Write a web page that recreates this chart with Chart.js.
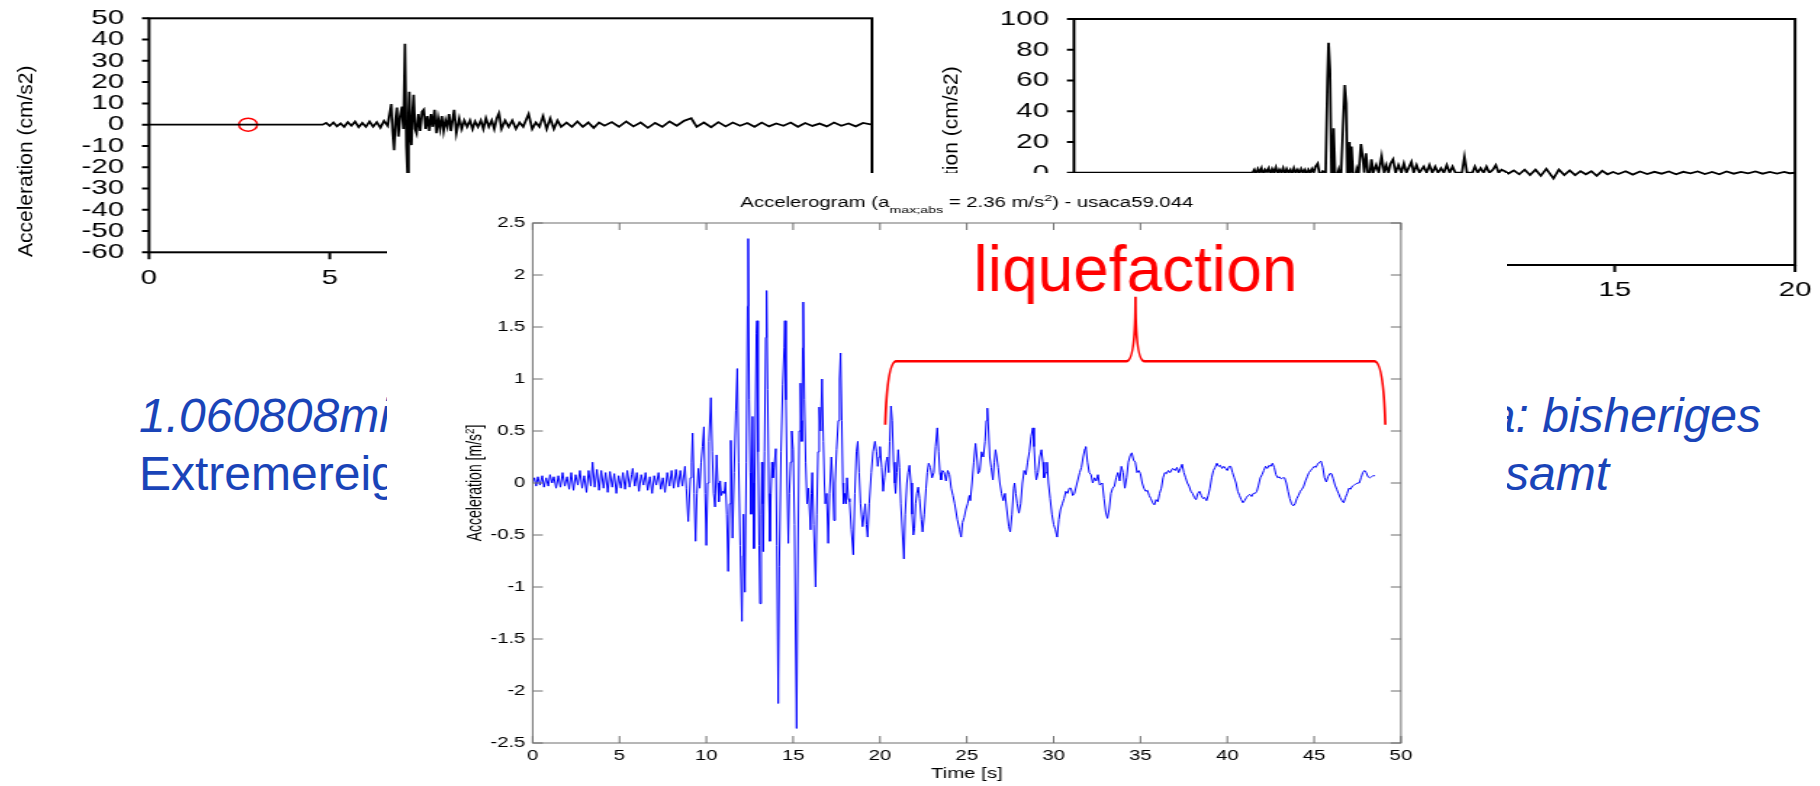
<!DOCTYPE html>
<html>
<head>
<meta charset="utf-8">
<script src="https://cdn.jsdelivr.net/npm/chart.js@4.4.1/dist/chart.umd.min.js"></script>
<style>
  html, body { margin: 0; padding: 0; background: #fff; }
  body { width: 1820px; height: 786px; position: relative; overflow: hidden; font-family: "Liberation Sans", Arial, sans-serif; }
  #topLeft { position: absolute; left: 0; top: 0; transform-origin: 0 0; }
  #topRight { position: absolute; left: 900px; top: 0; transform-origin: 0 0; }
  .blue { position: absolute; color: #1a44b8; font-size: 48px; line-height: 1; white-space: nowrap; }
  .it { font-style: italic; }
  #mainBox { position: absolute; left: 387px; top: 173px; width: 1120px; height: 613px; background: #fff; overflow: hidden; }
  #mainChart { position: absolute; left: 0; top: 0; transform-origin: 0 0; }
</style>
</head>
<body>
<canvas id="topLeft"></canvas>
<canvas id="topRight"></canvas>

<div class="blue it" style="left:139px; top:392px;">1.060808mio</div>
<div class="blue" style="left:139px; top:450px;">Extremereignis</div>
<div class="blue it" style="right:59px; top:392px;">Europa: bisheriges</div>
<div class="blue it" style="left:1505px; top:450px;">samt</div>

<div id="mainBox"><canvas id="mainChart" width="772" height="613"></canvas></div>

<script>
// ---- Daten: oberes linkes Diagramm (cm/s2) ----
const tlTime = [
  0, 4.8, 4.9, 5.0, 5.1, 5.2, 5.3, 5.4, 5.5, 5.6,
  5.7, 5.8, 5.9, 6.0, 6.1, 6.2, 6.3, 6.4, 6.5, 6.6,
  6.7, 6.74, 6.78, 6.82, 6.86, 6.9, 6.95, 7.0, 7.04, 7.08,
  7.12, 7.15, 7.18, 7.2, 7.23, 7.26, 7.29, 7.32, 7.36, 7.4,
  7.45, 7.5, 7.55, 7.6, 7.65, 7.7, 7.75, 7.8, 7.85, 7.9,
  7.95, 8.0, 8.05, 8.1, 8.15, 8.2, 8.25, 8.3, 8.35, 8.44,
  8.5, 8.58, 8.65, 8.72, 8.8, 8.88, 8.95, 9.02, 9.1, 9.18,
  9.25, 9.32, 9.4, 9.48, 9.55, 9.62, 9.68, 9.75, 9.85, 9.95,
  10.05, 10.15, 10.25, 10.35, 10.45, 10.5, 10.6, 10.7, 10.8, 10.9,
  11.0, 11.1, 11.2, 11.3, 11.4, 11.55, 11.7, 11.85, 12.0, 12.15,
  12.3, 12.45, 12.6, 12.8, 13.0, 13.2, 13.4, 13.6, 13.8, 14.0,
  14.2, 14.4, 14.6, 14.8, 15.0, 15.15, 15.35, 15.55, 15.75, 15.95,
  16.15, 16.35, 16.55, 16.75, 16.95, 17.15, 17.35, 17.55, 17.75, 17.95,
  18.15, 18.35, 18.55, 18.75, 18.95, 19.15, 19.35, 19.55, 19.75, 20.0
];
const tlAccel = [
  0, 0, 0.8, -0.6, 1.0, -0.8, 0.6, -1.0, 1.2, -0.5,
  1.4, -1.2, 0.8, -1.0, 1.5, -0.9, 1.2, -1.4, 1.8, -0.5,
  9.7, -3, -12, 2, 8, -5.6, 4, 8.5, -2, 38,
  -10, -23, 5, 15.5, -4, -9.6, 6, 14, -2, -4,
  5, -3, 6, 7, -2, 4, -3, 5, -1, 7,
  -4, 3, -2, 4, -3, 2, -1, 5, -3, 7,
  -4, 3, -2, 2, -1, 2, -2, 1.5, -1, 2,
  -2, 3, -1, 2, -2, 3, 5.3, -2, 2, -1,
  2, -2, 1, -1, 3, 5, -2, 1, -1, 4,
  -2, 3, -2, 2, -1, 1, -1, 1.5, -1, 1,
  -1.5, 1, -0.5, 1.2, -1, 1.5, -0.8, 1, -1.5, 0.8,
  -1, 1.5, -0.5, 1.8, 3, -1, 1, -1.2, 1.2, -0.8,
  1, -0.5, 0.8, -1, 1, -0.8, 0.6, -0.5, 1, -1,
  0.8, -0.6, 0.5, -0.8, 1, -0.5, 0.6, -0.8, 0.8, 0
];
const tlMarkTime = [2.74];
const tlMarkAccel = [0];
const tlXTicks = [0, 5, 10, 15, 20];
const tlYTicks = [-60, -50, -40, -30, -20, -10, 0, 10, 20, 30, 40, 50];

// ---- Daten: oberes rechtes Diagramm (cm/s2) ----
const trTime = [
  0, 4.95, 5.0, 5.05, 5.1, 5.15, 5.2, 5.25, 5.3, 5.35,
  5.4, 5.45, 5.5, 5.55, 5.6, 5.65, 5.7, 5.75, 5.8, 5.85,
  5.9, 5.95, 6.0, 6.05, 6.1, 6.15, 6.2, 6.25, 6.3, 6.35,
  6.4, 6.45, 6.5, 6.55, 6.6, 6.65, 6.7, 6.76, 6.82, 6.9,
  6.98, 7.03, 7.06, 7.1, 7.14, 7.17, 7.2, 7.24, 7.28, 7.34,
  7.4, 7.46, 7.51, 7.55, 7.58, 7.62, 7.64, 7.67, 7.7, 7.74,
  7.8, 7.85, 7.9, 7.96, 8.02, 8.05, 8.1, 8.15, 8.2, 8.25,
  8.3, 8.38, 8.45, 8.53, 8.6, 8.66, 8.72, 8.78, 8.85, 8.92,
  9.0, 9.08, 9.15, 9.22, 9.3, 9.36, 9.42, 9.5, 9.58, 9.7,
  9.78, 9.86, 9.94, 10.02, 10.1, 10.18, 10.26, 10.34, 10.42, 10.5,
  10.58, 10.76, 10.83, 10.9, 11.05, 11.12, 11.2, 11.28, 11.36, 11.44,
  11.52, 11.62, 11.7, 11.78, 11.86, 11.95, 12.05, 12.2, 12.35, 12.5,
  12.65, 12.8, 12.95, 13.1, 13.3, 13.45, 13.6, 13.75, 13.9, 14.05,
  14.2, 14.35, 14.5, 14.65, 14.8, 14.95, 15.1, 15.3, 15.5, 15.7,
  15.9, 16.1, 16.3, 16.5, 16.7, 16.9, 17.1, 17.3, 17.5, 17.7,
  17.9, 18.1, 18.3, 18.5, 18.7, 18.9, 19.1, 19.3, 19.5, 19.7, 19.85, 20
];
const trAccel = [
  0, 0, 2, -1, 2.5, 0, 3, -1, 2, 0.5,
  3, -1, 2.5, 0, 3.5, -0.5, 2, 0, 3, -1,
  2.5, 0, 2, -1, 3, 0, 2, -0.5, 2.5, 0,
  2, -1, 2, 0, 2.5, 0, 4, 6, -2, 1,
  0, 60, 84.6, 67, 0, -5, 29, 0, -3, 2,
  -5, 30, 57, 45, 0, -4, 20, 0, 17, 0,
  -3, 3, 0, 18.7, 8, 0, 12.6, 0, -2, 8.7,
  0, 5, 0, 10.8, 0, 5, 0, 6, 8.7, 0,
  5, 0, 6, 0, 4, 7, 0, 5, 0, 4,
  0, 5, 0, 4, 0, 3, 0, 5, 0, 4,
  0, 0, 10.4, 0, 0, 4, 0, 3, 0, 4,
  0, 2, 5, 0, 2, 1, -0.5, 1.5, -1, 2,
  -1.5, 2, -2, 2.5, -3.7, 2, -1.5, 1.5, -1.5, 1,
  -1, 1, -2, 1.2, -1, 0.5, -0.8, 1, -1.2, 0.8,
  -0.8, 0.6, -0.6, 0.8, -1, 0.6, -0.4, 0.8, -0.8, 0.5,
  -1, 0.8, -0.6, 0.6, -0.4, 0.8, -0.6, 0.6, -0.5, 0.5, -0.3, 0
];
const trXTicks = [0, 5, 10, 15, 20];
const trYTicks = [-60, -40, -20, 0, 20, 40, 60, 80, 100];

// ---- Daten: Akzelerogramm usaca59.044 (m/s2) ----
const mainTime = [
  0, 0.1, 0.2, 0.3, 0.42, 0.55, 0.65, 0.78, 0.9, 1.0,
  1.12, 1.22, 1.35, 1.48, 1.6, 1.72, 1.85, 1.98, 2.1, 2.22,
  2.35, 2.47, 2.6, 2.72, 2.85, 2.97, 3.1, 3.22, 3.35, 3.45,
  3.57, 3.7, 3.82, 3.95, 4.08, 4.2, 4.32, 4.45, 4.58, 4.7,
  4.82, 4.95, 5.08, 5.2, 5.32, 5.45, 5.58, 5.7, 5.76, 5.88,
  6.0, 6.12, 6.25, 6.38, 6.5, 6.62, 6.75, 6.88, 7.0, 7.12,
  7.25, 7.38, 7.5, 7.62, 7.75, 7.88, 8.0, 8.12, 8.25, 8.38,
  8.5, 8.62, 8.77, 8.85, 8.96, 9.08, 9.15, 9.21, 9.3, 9.38,
  9.46, 9.54, 9.62, 9.7, 9.78, 9.86, 9.93, 10.0, 10.08, 10.15,
  10.26, 10.34, 10.42, 10.5, 10.59, 10.66, 10.72, 10.8, 10.87, 10.95,
  11.03, 11.1, 11.18, 11.26, 11.34, 11.41, 11.46, 11.51, 11.6, 11.7,
  11.78, 11.86, 11.95, 12.05, 12.1, 12.14, 12.22, 12.3, 12.37, 12.41,
  12.47, 12.53, 12.58, 12.66, 12.7, 12.74, 12.82, 12.88, 12.92, 12.98,
  13.04, 13.09, 13.16, 13.2, 13.24, 13.28, 13.35, 13.42, 13.47, 13.53,
  13.6, 13.66, 13.72, 13.78, 13.83, 13.9, 14.0, 14.06, 14.14, 14.2,
  14.3, 14.4, 14.48, 14.52, 14.58, 14.65, 14.72, 14.78, 14.85, 14.92,
  15.0, 15.08, 15.14, 15.2, 15.26, 15.35, 15.42, 15.47, 15.5, 15.55,
  15.58, 15.65, 15.72, 15.8, 15.88, 16.0, 16.05, 16.1, 16.18, 16.29,
  16.36, 16.43, 16.5, 16.58, 16.66, 16.74, 16.8, 16.85, 16.93, 17.02,
  17.1, 17.2, 17.28, 17.35, 17.42, 17.5, 17.6, 17.67, 17.73, 17.8,
  17.86, 17.9, 17.98, 18.05, 18.1, 18.18, 18.25, 18.35, 18.46, 18.55,
  18.64, 18.72, 18.8, 18.88, 19.0, 19.08, 19.15, 19.22, 19.29, 19.38,
  19.5, 19.6, 19.71, 19.8, 19.87, 19.94, 20.0, 20.1, 20.18, 20.26,
  20.35, 20.42, 20.5, 20.56, 20.63, 20.7, 20.78, 20.85, 20.9, 20.97,
  21.05, 21.12, 21.2, 21.3, 21.38, 21.45, 21.55, 21.62, 21.7, 21.78,
  21.85, 21.92, 21.98, 22.05, 22.12, 22.2, 22.28, 22.38, 22.45, 22.55,
  22.65, 22.72, 22.8, 22.9, 23.0, 23.1, 23.2, 23.3, 23.38, 23.45,
  23.52, 23.6, 23.7, 23.8, 23.9, 24.0, 24.1, 24.2, 24.3, 24.45,
  24.58, 24.67, 24.75, 24.85, 24.95, 25.05, 25.15, 25.2, 25.3, 25.4,
  25.5, 25.58, 25.65, 25.75, 25.85, 25.95, 26.05, 26.12, 26.18, 26.25,
  26.32, 26.4, 26.5, 26.58, 26.65, 26.72, 26.8, 26.9, 27.0, 27.1,
  27.2, 27.3, 27.42, 27.5, 27.6, 27.7, 27.75, 27.82, 27.9, 28.0,
  28.1, 28.2, 28.3, 28.4, 28.5, 28.6, 28.7, 28.8, 28.87, 28.95,
  29.0, 29.1, 29.2, 29.3, 29.38, 29.45, 29.55, 29.62, 29.7, 29.8,
  29.9, 30.0, 30.1, 30.2, 30.3, 30.4, 30.5, 30.6, 30.7, 30.8,
  30.9, 31.0, 31.1, 31.2, 31.35, 31.5, 31.6, 31.7, 31.8, 31.85,
  31.95, 32.05, 32.15, 32.25, 32.35, 32.45, 32.55, 32.65, 32.8, 32.9,
  33.0, 33.1, 33.2, 33.3, 33.4, 33.5, 33.6, 33.7, 33.8, 33.9,
  34.0, 34.1, 34.2, 34.3, 34.4, 34.5, 34.6, 34.7, 34.8, 34.9,
  35.0, 35.1, 35.2, 35.3, 35.4, 35.5, 35.6, 35.7, 35.8, 35.9,
  36.0, 36.1, 36.2, 36.3, 36.4, 36.5, 36.6, 36.7, 36.85, 37.0,
  37.1, 37.2, 37.3, 37.4, 37.5, 37.6, 37.7, 37.8, 37.9, 38.0,
  38.1, 38.2, 38.3, 38.4, 38.5, 38.6, 38.7, 38.8, 38.9, 39.0,
  39.1, 39.2, 39.3, 39.4, 39.5, 39.6, 39.7, 39.8, 39.9, 40.0,
  40.1, 40.2, 40.3, 40.4, 40.5, 40.6, 40.7, 40.8, 40.9, 41.0,
  41.1, 41.2, 41.3, 41.4, 41.5, 41.6, 41.7, 41.8, 41.9, 42.0,
  42.1, 42.2, 42.3, 42.4, 42.5, 42.6, 42.7, 42.8, 42.9, 43.0,
  43.1, 43.2, 43.3, 43.4, 43.5, 43.6, 43.7, 43.8, 43.9, 44.0,
  44.1, 44.2, 44.3, 44.4, 44.5, 44.6, 44.7, 44.8, 44.9, 45.0,
  45.1, 45.2, 45.3, 45.4, 45.5, 45.6, 45.7, 45.8, 45.9, 46.0,
  46.1, 46.2, 46.3, 46.4, 46.5, 46.6, 46.7, 46.8, 46.9, 47.0,
  47.1, 47.2, 47.3, 47.4, 47.5, 47.6, 47.7, 47.8, 47.9, 48.0,
  48.1, 48.2, 48.3, 48.4, 48.5
];
const mainAccel = [
  0, 0.05, -0.03, 0.06, -0.02, 0.07, -0.04, 0.05, -0.03, 0.08,
  0.0, 0.06, -0.05, 0.07, -0.04, 0.1, -0.03, 0.06, -0.06, 0.1,
  -0.07, 0.08, -0.02, 0.12, -0.05, 0.07, -0.09, 0.12, -0.03, 0.2,
  -0.04, 0.13, -0.07, 0.12, -0.05, 0.1, -0.09, 0.11, -0.04, 0.09,
  -0.1, 0.07, -0.05, 0.1, -0.06, 0.12, -0.04, 0.08, 0.14, -0.03,
  0.1, -0.08, 0.08, -0.02, 0.1, -0.07, 0.06, -0.1, 0.07, -0.02,
  0.1, -0.06, 0.05, -0.09, 0.1, -0.03, 0.12, -0.05, 0.13, -0.04,
  0.12, -0.03, 0.16, -0.05, -0.37, 0.05, 0.2, 0.48, -0.1, -0.56,
  -0.1, 0.14, -0.05, 0.2, 0.35, 0.54, -0.1, -0.6, 0.0, 0.4,
  0.82, 0.3, -0.1, -0.23, 0.27, 0.0, -0.18, 0.02, -0.12, -0.08,
  -0.1, 0.01, -0.3, -0.85, -0.2, 0.41, 0.0, -0.53, 0.1, 0.7,
  1.1, 0.2, -0.6, -1.33, -0.7, -0.3, -1.05, 0.2, 1.7, 2.35,
  0.8, 0.1, -0.3, 0.64, 0.0, -0.63, 0.5, 1.44, 1.56, 0.3,
  -0.6, -1.16, -0.3, 0.2, -0.2, -0.66, 0.3, 1.4, 1.85, 0.9,
  -0.1, -0.56, -0.1, 0.2, 0.05, 0.15, 0.33, -0.6, -2.12, -0.8,
  0.3, 0.95, 1.3, 1.56, 0.8, 0.0, -0.58, -0.1, 0.2, 0.5,
  0.32, -0.4, -1.5, -2.36, -1.0, 0.5, 0.96, 0.6, 0.4, 1.3,
  1.74, 0.8, 0.2, -0.2, -0.05, -0.45, -0.1, 0.1, -0.4, -1.0,
  -0.3, 0.3, 0.73, 0.5, 1.0, 0.4, 0.0, -0.2, -0.1, -0.58,
  -0.1, 0.25, 0.0, -0.36, 0.0, 0.32, 0.6, 1.0, 1.25, 0.6,
  0.0, -0.2, -0.1, -0.2, 0.05, -0.15, -0.18, -0.45, -0.69, -0.1,
  0.3, 0.4, 0.1, -0.2, -0.42, -0.3, -0.2, -0.4, -0.52, -0.2,
  0.1, 0.3, 0.4, 0.3, 0.16, 0.25, 0.35, 0.15, -0.08, 0.05,
  0.2, 0.25, 0.1, 0.4, 0.74, 0.6, 0.2, 0.0, -0.1, 0.1,
  0.32, 0.15, -0.2, -0.5, -0.73, -0.3, 0.0, 0.1, 0.17, 0.0,
  -0.3, -0.5, -0.44, -0.2, -0.1, -0.04, -0.15, -0.35, -0.47, -0.3,
  -0.05, 0.1, 0.19, 0.15, 0.05, 0.1, 0.35, 0.53, 0.3, 0.1,
  0.03, 0.12, 0.1, 0.02, 0.12, 0.08, -0.05, -0.12, -0.2, -0.35,
  -0.45, -0.52, -0.38, -0.33, -0.25, -0.2, -0.12, -0.17, 0.0, 0.2,
  0.38, 0.25, 0.09, 0.12, 0.3, 0.25, 0.4, 0.6, 0.72, 0.5,
  0.25, 0.15, 0.03, 0.2, 0.32, 0.25, 0.15, 0.0, -0.1, -0.17,
  -0.1, -0.25, -0.42, -0.47, -0.3, -0.05, 0.0, -0.1, -0.2, -0.29,
  -0.2, 0.0, 0.12, 0.08, 0.2, 0.3, 0.45, 0.53, 0.35, 0.12,
  0.03, 0.1, 0.25, 0.32, 0.2, 0.05, 0.1, 0.2, 0.0, -0.15,
  -0.3, -0.4, -0.45, -0.52, -0.35, -0.25, -0.2, -0.15, -0.08, -0.1,
  -0.05, -0.05, -0.12, -0.1, 0.0, 0.1, 0.15, 0.25, 0.33, 0.35,
  0.2, 0.1, 0.08, 0.0, 0.05, 0.02, 0.08, -0.02, 0.0, -0.15,
  -0.28, -0.34, -0.25, -0.1, -0.05, -0.03, 0.05, 0.1, 0.02, 0.16,
  0.1, -0.05, 0.05, 0.2, 0.26, 0.29, 0.22, 0.2, 0.1, 0.12,
  0.09, 0.0, -0.05, -0.08, -0.07, -0.12, -0.15, -0.19, -0.21, -0.16,
  -0.18, -0.1, -0.05, 0.05, 0.1, 0.09, 0.12, 0.1, 0.14, 0.12,
  0.15, 0.1, 0.14, 0.18, 0.1, 0.05, 0.0, -0.03, -0.08, -0.1,
  -0.14, -0.16, -0.1, -0.08, -0.12, -0.15, -0.14, -0.17, -0.12, -0.05,
  0.05, 0.12, 0.15, 0.19, 0.16, 0.17, 0.14, 0.16, 0.14, 0.12,
  0.16, 0.16, 0.1, 0.05, 0.0, -0.08, -0.12, -0.16, -0.19, -0.17,
  -0.14, -0.12, -0.11, -0.13, -0.1, -0.1, -0.08, -0.02, 0.05, 0.08,
  0.12, 0.16, 0.14, 0.17, 0.16, 0.19, 0.15, 0.08, 0.05, 0.06,
  0.04, 0.05, 0.05, 0.0, -0.08, -0.15, -0.2, -0.22, -0.2, -0.15,
  -0.12, -0.08, -0.06, -0.03, 0.02, 0.06, 0.1, 0.12, 0.14, 0.16,
  0.15, 0.18, 0.2, 0.21, 0.15, 0.05, 0.01, 0.06, 0.09, 0.09,
  0.04, -0.02, -0.06, -0.1, -0.14, -0.17, -0.19, -0.14, -0.1, -0.05,
  -0.06, -0.03, -0.02, -0.01, 0.0, 0.0, 0.05, 0.1, 0.12, 0.1,
  0.06, 0.05, 0.06, 0.07, 0.07
];
const mainXTicks = [0, 5, 10, 15, 20, 25, 30, 35, 40, 45, 50];
const mainYTicks = [-2.5, -2, -1.5, -1, -0.5, 0, 0.5, 1, 1.5, 2, 2.5];

// Klammer "liquefaction" (Zeit in s, Werte in m/s2)
const braceTime = [20.3, 34.71, 49.1];
const braceLevel = [0.56, 1.17, 1.79];
const labelPos = [34.71, 1.85];

const FONT = '"Liberation Sans", Arial, sans-serif';
const SX = 1120 / 772; // Hauptgrafik ist horizontal gestreckt
const ST = 1.4;        // obere Grafiken ebenfalls

function pairs(xs, ys) {
  return xs.map((x, i) => ({ x: x, y: ys[i] }));
}

function fixedTicks(values) {
  return function(scale) {
    scale.ticks = values.map(v => ({ value: v }));
  };
}

function drawParts(ctx, parts, x, y, size, align) {
  const f = p => ((p.sub || p.sup) ? size * 0.7 : size) + 'px ' + FONT;
  let total = 0;
  const widths = parts.map(p => {
    ctx.font = f(p);
    const w = ctx.measureText(p.t).width;
    total += w;
    return w;
  });
  let cx = align === 'center' ? x - total / 2 : x;
  ctx.textAlign = 'left';
  ctx.textBaseline = 'alphabetic';
  parts.forEach((p, i) => {
    ctx.font = f(p);
    const dy = p.sub ? size * 0.42 : (p.sup ? -size * 0.42 : 0);
    ctx.fillText(p.t, cx, y + dy);
    cx += widths[i];
  });
}

// Rahmen und Striche
function framePlugin(opts) {
  return {
    id: 'frame',
    afterDatasetsDraw(chart) {
      const ctx = chart.ctx, a = chart.chartArea;
      const xs = chart.scales.x, ys = chart.scales.y;
      ctx.save();
      ctx.strokeStyle = opts.color;
      ctx.lineWidth = opts.width;
      ctx.strokeRect(a.left, a.top, a.right - a.left, a.bottom - a.top);
      ctx.beginPath();
      const LX = opts.tickX, LY = opts.tickY;
      xs.ticks.forEach(t => {
        const px = xs.getPixelForValue(t.value);
        if (opts.inward) {
          ctx.moveTo(px, a.bottom); ctx.lineTo(px, a.bottom - LX);
          ctx.moveTo(px, a.top); ctx.lineTo(px, a.top + LX);
        } else {
          ctx.moveTo(px, a.bottom); ctx.lineTo(px, a.bottom + LX);
        }
      });
      ys.ticks.forEach(t => {
        const py = ys.getPixelForValue(t.value);
        if (opts.inward) {
          ctx.moveTo(a.left, py); ctx.lineTo(a.left + LY, py);
          ctx.moveTo(a.right, py); ctx.lineTo(a.right - LY, py);
        } else {
          ctx.moveTo(a.left, py); ctx.lineTo(a.left - LY, py);
        }
      });
      ctx.stroke();
      ctx.restore();
    }
  };
}

// y-Achsentitel der oberen Diagramme (nicht gestreckt)
function topTitle(s) {
  return {
    id: 'topTitle',
    afterDraw(chart) {
      const ctx = chart.ctx, a = chart.chartArea;
      ctx.save();
      ctx.translate(a.left - 122 / s, a.top + 143);
      ctx.scale(1 / s, 1);
      ctx.rotate(-Math.PI / 2);
      ctx.fillStyle = '#000';
      ctx.font = '21px ' + FONT;
      ctx.textAlign = 'center';
      ctx.textBaseline = 'middle';
      ctx.fillText('Acceleration (cm/s2)', 0, 0);
      ctx.restore();
    }
  };
}

// area: Plotfläche in Seitenpixeln relativ zur Canvas
function topChart(id, W, H, area, time, accel, xTicks, yTicks, xGap, extra) {
  const canvas = document.getElementById(id);
  const w = Math.round(W / ST);
  const s = W / w;
  canvas.width = w;
  canvas.height = H;
  canvas.style.transform = 'scaleX(' + s + ')';
  const xHeight = 40;
  const datasets = [{
    data: pairs(time, accel),
    borderColor: '#000',
    borderWidth: 1.8,
    pointRadius: 0,
    tension: 0
  }];
  if (extra) datasets.push(extra);
  return new Chart(canvas, {
    type: 'line',
    data: { datasets: datasets },
    options: {
      responsive: false,
      animation: false,
      events: [],
      layout: { padding: {
        left: area.left / s - 60,
        right: w - area.right / s,
        top: area.top,
        bottom: H - area.bottom - xHeight
      } },
      plugins: { legend: { display: false }, tooltip: { enabled: false } },
      scales: {
        x: {
          type: 'linear',
          min: xTicks[0], max: xTicks[xTicks.length - 1],
          afterBuildTicks: fixedTicks(xTicks),
          afterFit: sc => { sc.height = xHeight; },
          grid: { display: false, drawTicks: true, tickLength: xGap },
          border: { display: false },
          ticks: { autoSkip: false, maxRotation: 0, padding: 0, color: '#000',
                   font: { family: FONT, size: 21 }, callback: v => String(v) }
        },
        y: {
          type: 'linear',
          min: yTicks[0], max: yTicks[yTicks.length - 1],
          afterBuildTicks: fixedTicks(yTicks),
          afterFit: sc => { sc.width = 60; },
          grid: { display: false, drawTicks: true, tickLength: 25 / s },
          border: { display: false },
          ticks: { autoSkip: false, padding: 0, color: '#000',
                   font: { family: FONT, size: 21 }, callback: v => String(v) }
        }
      }
    },
    plugins: [framePlugin({ color: '#000', width: 2, tickX: 7, tickY: 7 / s, inward: false }), topTitle(s)]
  });
}

topChart('topLeft', 900, 300, { left: 149, right: 872, top: 18.3, bottom: 252.3 },
  tlTime, tlAccel, tlXTicks, tlYTicks, 13,
  {
    data: pairs(tlMarkTime, tlMarkAccel),
    showLine: false,
    pointRadius: 6.5,
    pointBorderWidth: 1.5,
    pointBorderColor: '#ff0000',
    pointBackgroundColor: 'rgba(0,0,0,0)'
  });

topChart('topRight', 920, 300, { left: 174, right: 895, top: 19, bottom: 265 },
  trTime, trAccel, trXTicks, trYTicks, 12.6);

// Titel, Achsentitel, Klammer
const mainDecor = {
  id: 'mainDecor',
  afterDatasetsDraw(chart) {
    const ctx = chart.ctx, a = chart.chartArea;
    const xs = chart.scales.x, ys = chart.scales.y;
    const cx = (a.left + a.right) / 2;
    ctx.save();
    ctx.fillStyle = '#000';
    drawParts(ctx, [
      { t: 'Accelerogram (a' }, { t: 'max;abs', sub: true },
      { t: ' = 2.36 m/s' }, { t: '2', sup: true }, { t: ') - usaca59.044' }
    ], cx, a.top - 16, 14, 'center');
    drawParts(ctx, [{ t: 'Time [s]' }], cx, a.bottom + 35, 14, 'center');
    ctx.translate(a.left - 35, (a.top + a.bottom) / 2);
    ctx.rotate(-Math.PI / 2);
    drawParts(ctx, [{ t: 'Acceleration [m/s' }, { t: '2', sup: true }, { t: ']' }], 0, 0, 14, 'center');
    ctx.restore();

    // Klammer und Text ohne Streckung zeichnen
    ctx.save();
    ctx.scale(1 / SX, 1);
    const X = t => xs.getPixelForValue(t) * SX;
    const Y = v => ys.getPixelForValue(v);
    const x0 = X(braceTime[0]), xm = X(braceTime[1]), x1 = X(braceTime[2]);
    const yl = Y(braceLevel[0]), yh = Y(braceLevel[1]), yp = Y(braceLevel[2]);
    ctx.strokeStyle = '#ff0000';
    ctx.lineWidth = 2.5;
    ctx.beginPath();
    ctx.moveTo(x0, yl);
    ctx.quadraticCurveTo(x0 + 2, yh, x0 + 11, yh);
    ctx.lineTo(xm - 9, yh);
    ctx.quadraticCurveTo(xm, yh, xm, yp);
    ctx.quadraticCurveTo(xm, yh, xm + 9, yh);
    ctx.lineTo(x1 - 11, yh);
    ctx.quadraticCurveTo(x1 - 2, yh, x1, yl);
    ctx.stroke();
    ctx.fillStyle = '#ff0000';
    ctx.font = '64px ' + FONT;
    ctx.textAlign = 'center';
    ctx.textBaseline = 'alphabetic';
    ctx.fillText('liquefaction', X(labelPos[0]), Y(labelPos[1]));
    ctx.restore();
  }
};

const mainCanvas = document.getElementById('mainChart');
mainCanvas.style.transform = 'scaleX(' + SX + ')';

new Chart(mainCanvas, {
  type: 'line',
  data: {
    datasets: [{
      data: pairs(mainTime, mainAccel),
      borderColor: '#0000ff',
      borderWidth: 1,
      pointRadius: 0,
      tension: 0
    }]
  },
  options: {
    responsive: false,
    animation: false,
    events: [],
    layout: { padding: { left: 40.4, right: 73.1, top: 50, bottom: 0 } },
    plugins: { legend: { display: false }, tooltip: { enabled: false } },
    scales: {
      x: {
        type: 'linear', min: 0, max: 50,
        afterBuildTicks: fixedTicks(mainXTicks),
        afterFit: s => { s.height = 43; },
        grid: { display: false, drawTicks: false },
        border: { display: false },
        ticks: { autoSkip: false, maxRotation: 0, padding: 5, color: '#000',
                 font: { family: FONT, size: 14 }, callback: v => String(v) }
      },
      y: {
        type: 'linear', min: -2.5, max: 2.5,
        afterBuildTicks: fixedTicks(mainYTicks),
        afterFit: s => { s.width = 60; },
        grid: { display: false, drawTicks: false },
        border: { display: false },
        ticks: { autoSkip: false, padding: 5, color: '#000',
                 font: { family: FONT, size: 14 }, callback: v => String(v) }
      }
    }
  },
  plugins: [framePlugin({ color: '#6e6e6e', width: 1, tickX: 7, tickY: 7, inward: true }), mainDecor]
});
</script>
</body>
</html>
